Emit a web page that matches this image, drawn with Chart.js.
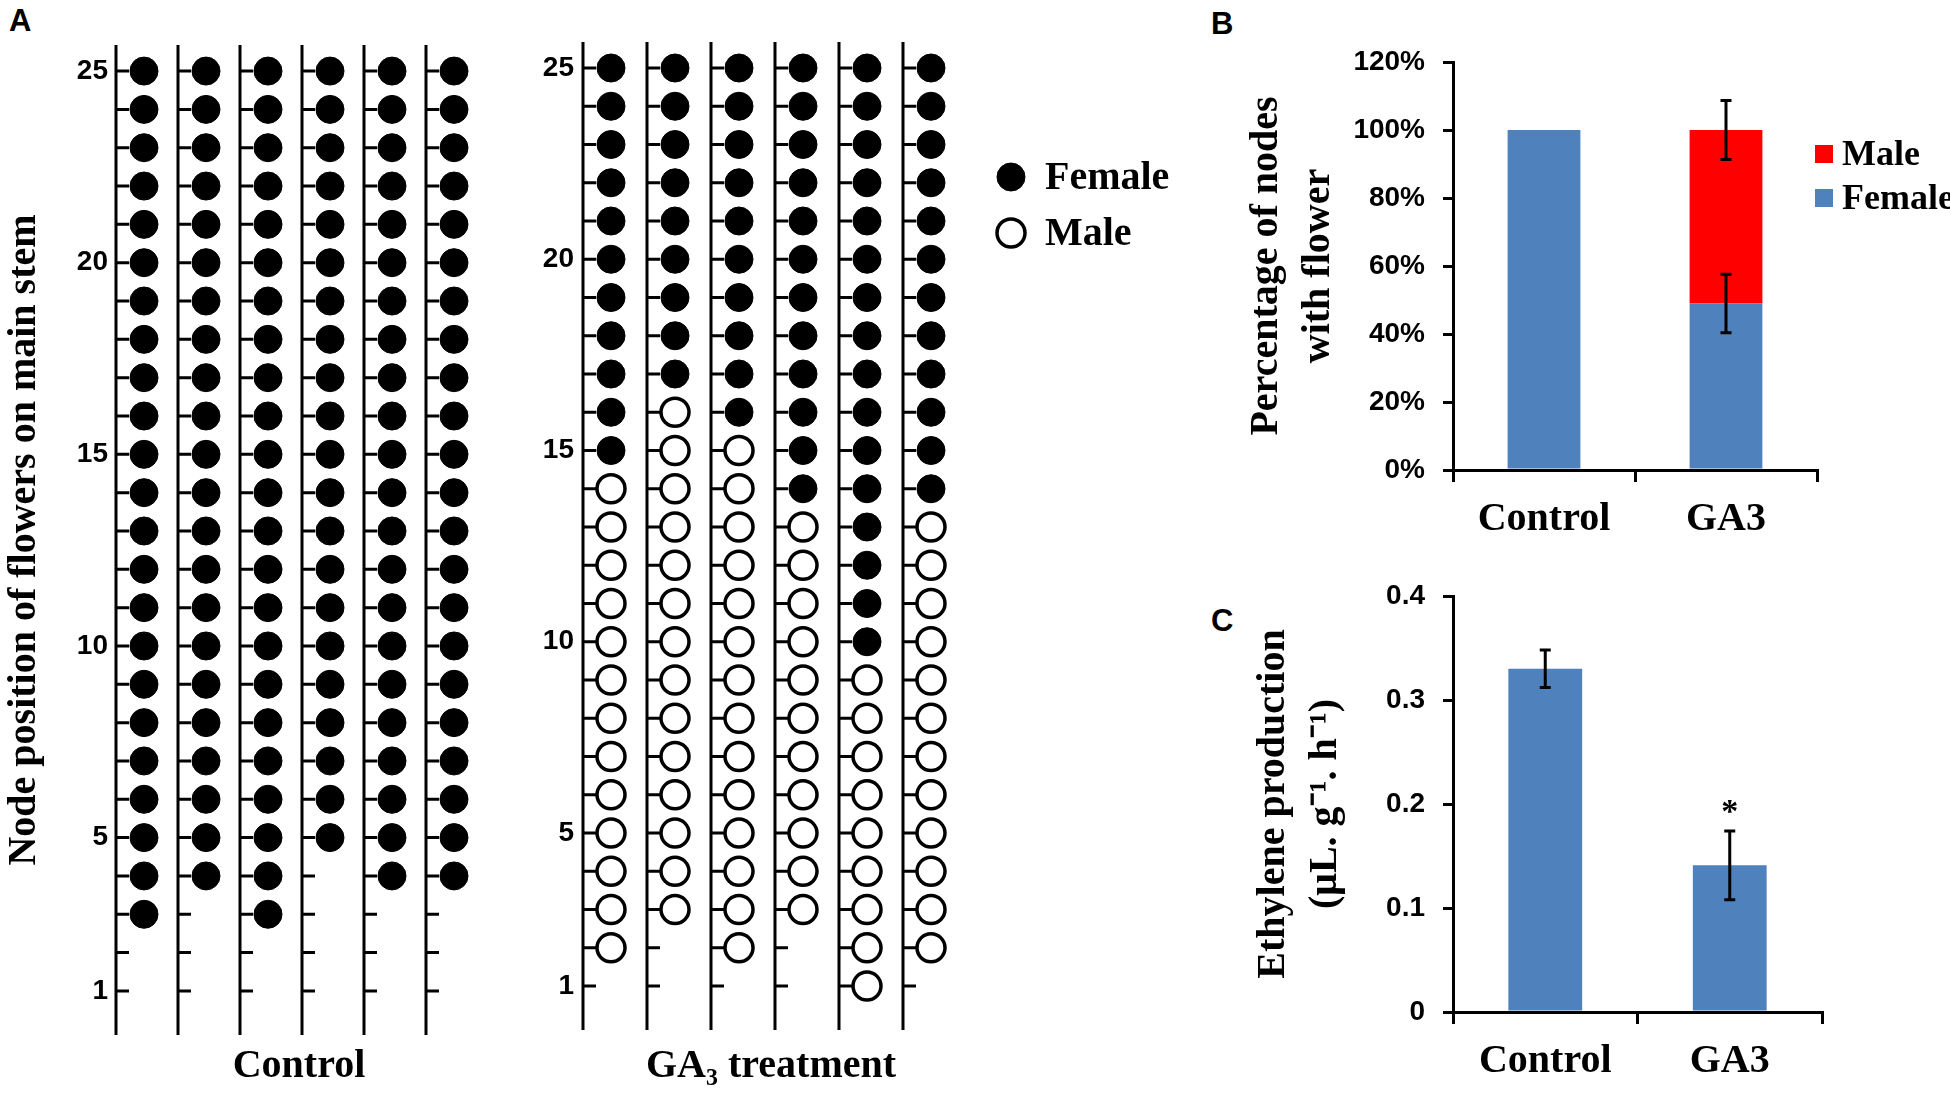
<!DOCTYPE html>
<html>
<head>
<meta charset="utf-8">
<title>GA3 and flower sex</title>
<script src="https://cdn.jsdelivr.net/npm/chart.js@4.4.1/dist/chart.umd.min.js"></script>
<style>
  html, body { margin: 0; padding: 0; background: #fff; }
  body { width: 1950px; height: 1096px; position: relative; overflow: hidden; }
  canvas { position: absolute; }
  .tag { position: absolute; font: bold 31px 'Liberation Sans', Arial, sans-serif; line-height: 31px; color: #000; }
</style>
</head>
<body>
<div class="tag" style="left:9px;top:5px">A</div>
<div class="tag" style="left:1211px;top:8px">B</div>
<div class="tag" style="left:1211px;top:605px">C</div>
<canvas id="ctrlChart" width="500" height="1096" style="left:0;top:0"></canvas>
<canvas id="ga3Chart" width="700" height="1096" style="left:500px;top:0"></canvas>
<canvas id="ratioChart" width="750" height="560" style="left:1200px;top:0"></canvas>
<canvas id="ethyChart" width="750" height="536" style="left:1200px;top:560px"></canvas>
<script>
(function () {

    // ---- data ----
    var nodeTicks = [1, 5, 10, 15, 20, 25];
    var topNode = 25;

    // A: lowest node carrying a flower, per plant (all nodes up to 25 flower)
    var controlLowestFlower = [3, 4, 3, 5, 4, 4];
    var ga3LowestFlower     = [2, 3, 2, 3, 1, 2];
    // GA3 plants: first (lowest) female node, males below it
    var ga3LowestFemale     = [15, 17, 16, 14, 10, 14];

    // B: percentage of nodes with flower
    var groups       = ['Control', 'GA3'];
    var femalePct    = [100, 49];
    var malePct      = [0, 51];
    var femalePctErr = [0, 8.6];
    var malePctErr   = [0, 8.7];

    // C: ethylene production
    var ethylene    = [0.33, 0.141];
    var ethyleneErr = [0.018, 0.033];
    var ethyleneSig = ['', '*'];

    var serif = "'Liberation Serif', 'Times New Roman', serif";
    var sans  = "'Liberation Sans', Arial, sans-serif";
    var blue  = '#4F81BD';
    var red   = '#FF0000';

    function nodePoints(lowArr, highArr) {
        var pts = [];
        lowArr.forEach(function (low, plant) {
            var high = highArr ? highArr[plant] : topNode;
            for (var n = low; n <= high; n++) {
                pts.push({x: plant, y: n});
            }
        });
        return pts;
    }

    function minusOne(arr) {
        return arr.map(function (v) { return v - 1; });
    }

    //- stems with a small tick at every node
    var stemPlugin = {
        id: 'stems',
        beforeDatasetsDraw: function (chart, args, opts) {
            var ctx = chart.ctx, xs = chart.scales.x, ys = chart.scales.y, area = chart.chartArea;
            ctx.save();
            ctx.strokeStyle = '#000';
            ctx.lineWidth = 3;
            for (var p = 0; p < opts.plants; p++) {
                var sx = xs.getPixelForValue(p) - opts.offset;
                ctx.beginPath();
                ctx.moveTo(sx, area.top);
                ctx.lineTo(sx, area.bottom);
                for (var n = 1; n <= topNode; n++) {
                    var ny = ys.getPixelForValue(n);
                    ctx.moveTo(sx, ny);
                    ctx.lineTo(sx + opts.tick, ny);
                }
                ctx.stroke();
            }
            ctx.restore();
        }
    };

    //- Female / Male legend of panel A
    var sexLegend = {
        id: 'sexLegend',
        afterDraw: function (chart, args, opts) {
            if (!opts.display) return;
            var ctx = chart.ctx;
            ctx.save();
            ctx.font = 'bold 40px ' + serif;
            ctx.textBaseline = 'middle';
            chart.data.datasets.forEach(function (ds, i) {
                var cy = opts.y + i * opts.gap;
                ctx.beginPath();
                ctx.arc(opts.x, cy, ds.pointRadius, 0, Math.PI * 2);
                ctx.fillStyle = ds.pointBackgroundColor;
                ctx.fill();
                ctx.lineWidth = ds.pointBorderWidth;
                ctx.strokeStyle = ds.pointBorderColor;
                ctx.stroke();
                ctx.fillStyle = '#000';
                ctx.fillText(ds.label, opts.textX, cy + 2);
            });
            ctx.restore();
        }
    };

    //- error bars (and significance marks) on bar charts
    var errorBars = {
        id: 'errorBars',
        afterDatasetsDraw: function (chart, args, opts) {
            var ctx = chart.ctx, ys = chart.scales.y;
            ctx.save();
            ctx.strokeStyle = '#000';
            ctx.lineWidth = 3;
            chart.data.datasets.forEach(function (ds, di) {
                var meta = chart.getDatasetMeta(di);
                meta.data.forEach(function (bar, i) {
                    var err = ds.errors ? ds.errors[i] : 0;
                    if (!err) return;
                    var span = Math.abs(ys.getPixelForValue(0) - ys.getPixelForValue(err));
                    var top = bar.y - span, bottom = bar.y + span;
                    ctx.beginPath();
                    ctx.moveTo(bar.x, top);
                    ctx.lineTo(bar.x, bottom);
                    ctx.moveTo(bar.x - opts.cap, top);
                    ctx.lineTo(bar.x + opts.cap, top);
                    ctx.moveTo(bar.x - opts.cap, bottom);
                    ctx.lineTo(bar.x + opts.cap, bottom);
                    ctx.stroke();
                    if (ds.marks && ds.marks[i]) {
                        ctx.fillStyle = '#000';
                        ctx.font = 'bold 34px ' + serif;
                        ctx.textAlign = 'center';
                        ctx.textBaseline = 'middle';
                        ctx.fillText(ds.marks[i], bar.x, top - 18);
                    }
                });
            });
            ctx.restore();
        }
    };

    //- square legend of panel B (top series first)
    var boxLegend = {
        id: 'boxLegend',
        afterDraw: function (chart, args, opts) {
            if (!opts.display) return;
            var ctx = chart.ctx, area = chart.chartArea;
            var sets = chart.data.datasets.slice().reverse();
            ctx.save();
            ctx.font = 'bold 36px ' + serif;
            ctx.textBaseline = 'middle';
            sets.forEach(function (ds, i) {
                var cy = area.top + opts.top + i * opts.gap;
                var bx = area.right + opts.dx;
                ctx.fillStyle = ds.backgroundColor;
                ctx.fillRect(bx, cy - opts.box / 2, opts.box, opts.box);
                ctx.fillStyle = '#000';
                ctx.fillText(ds.label, bx + opts.box + opts.space, cy + 2);
            });
            ctx.restore();
        }
    };

    function flowerSet(label, points, filled) {
        return {
            label: label,
            data: points,
            pointRadius: 14,
            pointHoverRadius: 14,
            pointBackgroundColor: filled ? '#000' : '#fff',
            pointBorderColor: '#000',
            pointBorderWidth: filled ? 1 : 3.5
        };
    }

    function stemChart(canvasId, datasets, cfg) {
        return new Chart(document.getElementById(canvasId), {
            type: 'scatter',
            data: {datasets: datasets},
            plugins: [stemPlugin, sexLegend],
            options: {
                responsive: false,
                animation: false,
                layout: {padding: {top: cfg.top, right: cfg.right, left: 0, bottom: 0}},
                plugins: {
                    legend: {display: false},
                    tooltip: {enabled: false},
                    stems: {plants: 6, offset: 28, tick: 13},
                    sexLegend: cfg.legend
                },
                scales: {
                    x: {
                        type: 'linear', min: -0.5, max: 5.5,
                        ticks: {display: false},
                        grid: {display: false},
                        border: {display: false},
                        title: {
                            display: true, text: cfg.xTitle, color: '#000',
                            font: {family: serif, size: 40, weight: 'bold', lineHeight: 1.2},
                            padding: {top: 0, bottom: 5}
                        },
                        afterFit: function (s) { s.height = cfg.bottomH; }
                    },
                    y: {
                        min: -0.15, max: 25.68,
                        grid: {display: false, drawTicks: false},
                        border: {display: false},
                        afterBuildTicks: function (s) {
                            s.ticks = nodeTicks.map(function (v) { return {value: v}; });
                        },
                        ticks: {
                            autoSkip: false, padding: 5, color: '#000',
                            font: {family: sans, size: 28, weight: 'bold'}
                        },
                        title: cfg.yTitle ? {
                            display: true, text: cfg.yTitle, color: '#000',
                            font: {family: serif, size: 40, weight: 'bold', lineHeight: 1.2},
                            padding: {top: 1, bottom: 0}
                        } : {display: false},
                        afterFit: function (s) { s.width = cfg.leftW; }
                    }
                }
            }
        });
    }

    function barScales(cfg) {
        return {
            x: {
                stacked: true,
                grid: {display: true, drawOnChartArea: false, offset: true, tickLength: 12, color: '#000', lineWidth: 3},
                border: {color: '#000', width: 3},
                ticks: {padding: 14, color: '#000', font: {family: serif, size: 40, weight: 'bold', lineHeight: 1.2}},
                afterFit: function (s) { s.height = cfg.bottomH; }
            },
            y: {
                stacked: true, min: cfg.min, max: cfg.max,
                grid: {drawOnChartArea: false, tickLength: 10, color: '#000', lineWidth: 3},
                border: {color: '#000', width: 3},
                ticks: {
                    stepSize: cfg.step, padding: 18, color: '#000',
                    font: {family: sans, size: 28, weight: 'bold'},
                    callback: cfg.fmt
                },
                title: {
                    display: true, text: cfg.yTitle, color: '#000',
                    font: {family: serif, size: 40, weight: 'bold', lineHeight: 1.3},
                    padding: {top: cfg.titlePad, bottom: 0}
                },
                afterFit: function (s) { s.width = 253; }
            }
        };
    }

    //--------------
    //- PANEL A -
    //--------------
    stemChart('ctrlChart', [
        flowerSet('Female', nodePoints(controlLowestFlower), true),
        flowerSet('Male', [], false)
    ], {
        top: 45, right: 3, leftW: 113, bottomH: 61,
        xTitle: 'Control',
        yTitle: 'Node position of flowers on main stem',
        legend: {display: false}
    });

    stemChart('ga3Chart', [
        flowerSet('Female', nodePoints(ga3LowestFemale), true),
        flowerSet('Male', nodePoints(ga3LowestFlower, minusOne(ga3LowestFemale)), false)
    ], {
        top: 42, right: 237, leftW: 79, bottomH: 66,
        xTitle: 'GA\u2083 treatment',
        yTitle: null,
        legend: {display: true, x: 511, y: 177, gap: 56, textX: 545}
    });

    //--------------
    //- PANEL B -
    //--------------
    new Chart(document.getElementById('ratioChart'), {
        type: 'bar',
        data: {
            labels: groups,
            datasets: [
                {label: 'Female', data: femalePct, backgroundColor: blue, errors: femalePctErr},
                {label: 'Male', data: malePct, backgroundColor: red, errors: malePctErr}
            ]
        },
        plugins: [errorBars, boxLegend],
        options: {
            responsive: false,
            animation: false,
            layout: {padding: {top: 62, right: 133, left: 0, bottom: 0}},
            datasets: {bar: {barPercentage: 0.4, categoryPercentage: 1}},
            plugins: {
                legend: {display: false},
                tooltip: {enabled: false},
                errorBars: {cap: 5.5},
                boxLegend: {display: true, top: 92, gap: 44, dx: -2, box: 18, space: 9}
            },
            scales: barScales({
                min: 0, max: 120, step: 20, bottomH: 90, titlePad: 41,
                yTitle: ['Percentage of nodes', 'with flower'],
                fmt: function (v) { return v + '%'; }
            })
        }
    });

    //--------------
    //- PANEL C -
    //--------------
    new Chart(document.getElementById('ethyChart'), {
        type: 'bar',
        data: {
            labels: groups,
            datasets: [
                {label: 'Ethylene', data: ethylene, backgroundColor: blue, errors: ethyleneErr, marks: ethyleneSig}
            ]
        },
        plugins: [errorBars],
        options: {
            responsive: false,
            animation: false,
            layout: {padding: {top: 36, right: 128, left: 0, bottom: 0}},
            datasets: {bar: {barPercentage: 0.4, categoryPercentage: 1}},
            plugins: {
                legend: {display: false},
                tooltip: {enabled: false},
                errorBars: {cap: 5.5}
            },
            scales: barScales({
                min: 0, max: 0.4, step: 0.1, bottomH: 84, titlePad: 48,
                yTitle: ['Ethylene production', '(\u03BCL. g\u207B\u00B9. h\u207B\u00B9)'],
                fmt: function (v) { return Chart.Ticks.formatters.numeric.call(this, v, arguments[1], arguments[2]); }
            })
        }
    });

})();
</script>
</body>
</html>
